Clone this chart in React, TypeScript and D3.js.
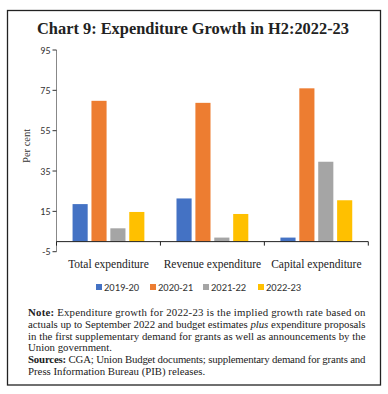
import * as d3 from 'd3'

const categories = ['Total expenditure', 'Revenue expenditure', 'Capital expenditure']
const seriesNames = ['2019-20', '2020-21', '2021-22', '2022-23']
const colors = ['#4472C4', '#ED7D31', '#A5A5A5', '#FFC000']
const v2019 = [18.6, 21.4, 2.0]
const v2020 = [69.8, 68.8, 76.0]
const v2021 = [6.6, 2.0, 39.6]
const v2022 = [14.7, 13.7, 20.5]
const yTicks = [-5, 15, 35, 55, 75, 95]

const noteLines = [
	{ bold: 'Note:', text: ' Expenditure growth for 2022-23 is the implied growth rate based on', justify: true },
	{ bold: '', text: 'actuals up to September 2022 and budget estimates |plus| expenditure proposals', justify: true },
	{ bold: '', text: 'in the first supplementary demand for grants as well as announcements by the', justify: true },
	{ bold: '', text: 'Union government.', justify: false },
	{ bold: 'Sources:', text: ' CGA; Union Budget documents; supplementary demand for grants and', justify: true },
	{ bold: '', text: 'Press Information Bureau (PIB) releases.', justify: false },
]

const W = 388
const H = 394
const left = 56.5
const right = 368.3
const top = 50
const bottom = 251.7
const serif = '"Liberation Serif", serif'
const sans = 'Carlito, "Liberation Sans", Arial, sans-serif'

export default function App() {
	const values = [v2019, v2020, v2021, v2022]
	const x = d3.scaleBand().domain(categories).range([left, right])
	const xs = d3
		.scaleBand()
		.domain(seriesNames)
		.range([0, x.bandwidth()])
		.paddingInner(0.2)
		.paddingOuter(0.85)
	const y = d3.scaleLinear().domain([-5, 95]).range([bottom, top])
	const legendX = [96, 150, 203, 258]

	return (
		<svg width={W} height={H} style={{ position: 'absolute', left: 0, top: 0, background: '#fff' }}>
			<rect x={7.5} y={10.5} width={373} height={374.5} fill="none" stroke="#222" strokeWidth={1.3} />
			<text
				x={193}
				y={34}
				textAnchor="middle"
				fontFamily={serif}
				fontWeight="bold"
				fontSize={17}
				fill="#222"
				textLength={312}
				lengthAdjust="spacingAndGlyphs"
			>
				Chart 9: Expenditure Growth in H2:2022-23
			</text>

			{/* y axis */}
			<line x1={left} x2={left} y1={top} y2={bottom} stroke="#888" />
			{yTicks.map((t) => (
				<g key={t}>
					<line x1={left - 4} x2={left} y1={y(t)} y2={y(t)} stroke="#333" />
					<text x={left - 6} y={y(t) + 3.5} textAnchor="end" fontFamily={sans} fontSize={10} fill="#333">
						{t}
					</text>
				</g>
			))}
			<text
				transform={`translate(30,${(top + bottom) / 2 - 5}) rotate(-90)`}
				textAnchor="middle"
				fontFamily={serif}
				fontSize={10.5}
				fill="#333"
			>
				Per cent
			</text>

			{/* bars */}
			{categories.map((c, i) =>
				seriesNames.map((s, j) => {
					const v = values[j][i]
					return (
						<rect
							key={c + s}
							x={(x(c) ?? 0) + (xs(s) ?? 0)}
							y={y(Math.max(0, v))}
							width={xs.bandwidth()}
							height={Math.abs(y(v) - y(0))}
							fill={colors[j]}
						/>
					)
				})
			)}

			{/* x axis */}
			<line x1={left} x2={right} y1={y(0)} y2={y(0)} stroke="#222" />
			{[...categories.map((c) => x(c) ?? 0), right].map((px, i) => (
				<line key={i} x1={px} x2={px} y1={y(0)} y2={y(0) + 4} stroke="#222" />
			))}
			{categories.map((c) => (
				<text
					key={c}
					x={(x(c) ?? 0) + x.bandwidth() / 2}
					y={268}
					textAnchor="middle"
					fontFamily={serif}
					fontSize={11.5}
					fill="#222"
				>
					{c}
				</text>
			))}

			{/* legend */}
			{seriesNames.map((s, j) => (
				<g key={s}>
					<rect x={legendX[j]} y={284} width={6} height={6} fill={colors[j]} />
					<text x={legendX[j] + 8} y={290.5} fontFamily={sans} fontSize={10.5} fill="#333">
						{s}
					</text>
				</g>
			))}

			{/* note */}
			{noteLines.map((l, i) => {
				const parts = l.text.split('|')
				return (
					<text
						key={i}
						x={28}
						y={316 + i * 11.8}
						fontFamily={serif}
						fontSize={10.8}
						fill="#222"
						{...(l.justify ? { textLength: 337.5, lengthAdjust: 'spacing' } : {})}
					>
						{l.bold && <tspan fontWeight="bold">{l.bold}</tspan>}
						{parts.map((p, k) => (
							<tspan key={k} fontStyle={k % 2 === 1 ? 'italic' : 'normal'}>
								{p}
							</tspan>
						))}
					</text>
				)
			})}
		</svg>
	)
}
